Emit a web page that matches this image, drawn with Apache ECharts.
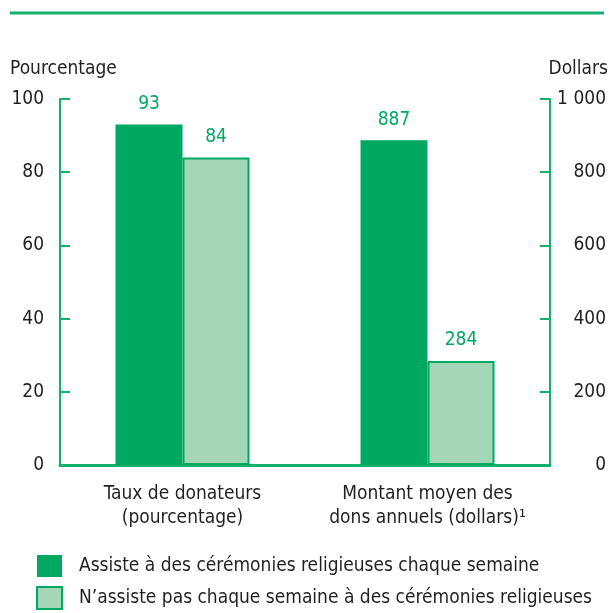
<!DOCTYPE html>
<html><head><meta charset="utf-8">
<script src="https://cdn.jsdelivr.net/npm/echarts@6/dist/echarts.min.js"></script>
<style>html,body{margin:0;padding:0;background:#fff}#c{width:612px;height:613px}</style>
</head><body><div id="c"></div>
<script>
const categories = ['Taux de donateurs\n(pourcentage)', 'Montant moyen des\ndons annuels (dollars)¹'];
const seriesNames = ['Assiste à des cérémonies religieuses chaque semaine', 'N’assiste pas chaque semaine à des cérémonies religieuses'];
const weeklyPct = [93, null];
const notWeeklyPct = [84, null];
const weeklyDollars = [null, 887];
const notWeeklyDollars = [null, 284];
const leftTicks = [0, 20, 40, 60, 80, 100];
const rightTicks = ['0', '200', '400', '600', '800', '1 000'];

const FONT = '"DejaVu Sans Condensed", "Liberation Sans Narrow", sans-serif';
const FS = 19;
const DARK = '#00A862';
const LIGHT = '#A3D7B8';
const AXIS = '#14B06E';
const TXT = '#231F20';

const chart = echarts.init(document.getElementById('c'));
const labelCfg = {show: true, position: 'top', distance: 11, color: DARK, fontSize: FS, fontFamily: FONT};
const barW = 67;
chart.setOption({
  animation: false,
  textStyle: {fontFamily: FONT},
  grid: {left: 60, right: 62, top: 99, bottom: 148},
  legend: {
    orient: 'vertical', left: 36, top: 555, padding: 0, itemWidth: 25, itemHeight: 22, itemGap: 9,
    icon: 'rect', data: seriesNames, selectedMode: false,
    textStyle: {fontSize: FS, color: TXT, fontFamily: FONT, padding: [0, 0, 0, 12]}
  },
  xAxis: [
    {type: 'category', data: categories, axisLine: {lineStyle: {color: AXIS, width: 3}}, axisTick: {show: false},
     axisLabel: {interval: 0, fontSize: FS, color: TXT, lineHeight: 24, margin: 17, fontFamily: FONT}},
    {type: 'category', data: categories, show: false}
  ],
  yAxis: [
    {type: 'value', min: 0, max: 100, interval: 20, splitLine: {show: false},
     axisLine: {show: true, lineStyle: {color: AXIS, width: 2}},
     axisTick: {show: true, inside: true, length: 10, lineStyle: {color: AXIS, width: 2}},
     axisLabel: {fontSize: FS, color: TXT, margin: 16, fontFamily: FONT,
       formatter: v => String(leftTicks[Math.round(v / 20)])}},
    {type: 'value', min: 0, max: 1000, interval: 200, position: 'right', splitLine: {show: false},
     axisLine: {show: true, lineStyle: {color: AXIS, width: 2}},
     axisTick: {show: true, inside: true, length: 10, lineStyle: {color: AXIS, width: 2}},
     axisLabel: {fontSize: FS, color: TXT, margin: 56, align: 'right', fontFamily: FONT,
       formatter: v => rightTicks[Math.round(v / 200)]}}
  ],
  graphic: [
    {type: 'line', shape: {x1: 10, y1: 13, x2: 604, y2: 13}, style: {stroke: AXIS, lineWidth: 3}},
    {type: 'text', left: 10, top: 60, style: {text: 'Pourcentage', fontSize: FS, fill: TXT, fontFamily: FONT}},
    {type: 'text', right: 4, top: 60, style: {text: 'Dollars', fontSize: FS, fill: TXT, fontFamily: FONT}}
  ],
  series: [
    {name: seriesNames[0], type: 'bar', xAxisIndex: 0, yAxisIndex: 0, data: weeklyPct, barWidth: barW, barGap: 0,
     itemStyle: {color: DARK}, label: labelCfg},
    {name: seriesNames[1], type: 'bar', xAxisIndex: 0, yAxisIndex: 0, data: notWeeklyPct, barWidth: barW, barGap: 0,
     itemStyle: {color: LIGHT, borderColor: DARK, borderWidth: 2}, label: labelCfg},
    {name: seriesNames[0], type: 'bar', xAxisIndex: 1, yAxisIndex: 1, data: weeklyDollars, barWidth: barW, barGap: 0,
     itemStyle: {color: DARK}, label: labelCfg},
    {name: seriesNames[1], type: 'bar', xAxisIndex: 1, yAxisIndex: 1, data: notWeeklyDollars, barWidth: barW, barGap: 0,
     itemStyle: {color: LIGHT, borderColor: DARK, borderWidth: 2}, label: labelCfg}
  ]
});
</script></body></html>
